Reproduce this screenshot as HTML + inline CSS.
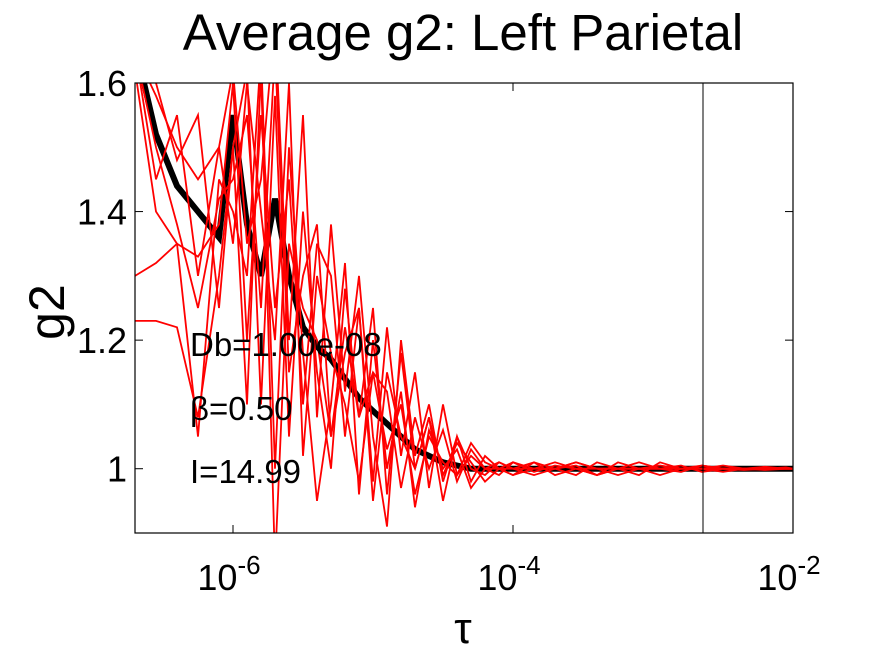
<!DOCTYPE html>
<html><head><meta charset="utf-8"><style>
body{margin:0;background:#fff;}
svg text{font-family:"Liberation Sans",sans-serif;fill:#000;}
</style></head><body>
<svg id="chart" width="875" height="656" xmlns="http://www.w3.org/2000/svg">
<defs><clipPath id="pc"><rect x="135" y="83" width="658" height="450"/></clipPath></defs>
<text x="463" y="50" font-size="51" text-anchor="middle">Average g2: Left Parietal</text>
<text transform="translate(64,312) rotate(-90)" font-size="50" text-anchor="middle">g2</text>
<text x="463" y="643" font-size="44" text-anchor="middle">τ</text>
<g id="ticks"></g>
<g id="series" clip-path="url(#pc)"></g>
<line x1="703" y1="83" x2="703" y2="533" stroke="#000" stroke-width="1"/>
<rect x="135" y="83" width="658" height="450" fill="none" stroke="#000" stroke-width="1.2"/>
<text x="190" y="356" font-size="33">Db=1.00e-08</text>
<text x="190" y="420" font-size="33">β=0.50</text>
<text x="190" y="483" font-size="33">I=14.99</text>
</svg>
<script>
const tauExp=[-6.70,-6.55,-6.40,-6.25,-6.10,-6.00,-5.90,-5.80,-5.70,-5.60,-5.50,-5.40,-5.30,-5.20,-5.10,-5.00,-4.90,-4.80,-4.70,-4.60,-4.50,-4.40,-4.30,-4.20,-4.10,-4.00,-3.85,-3.70,-3.55,-3.40,-3.25,-3.10,-2.95,-2.80,-2.65,-2.50,-2.35,-2.20,-2.05,-2.00];
const s1=[1.30,1.32,1.35,1.33,1.38,1.60,1.20,1.55,1.25,1.45,1.10,1.35,1.30,1.05,1.25,0.98,1.22,1.02,1.15,0.97,1.10,0.99,1.04,1.01,1.00,1.01,0.995,1.005,1.00,0.99,1.01,1.00,1.00,1.005,0.995,1.00,1.00,1.003,1.00,1.00];
const s2=[1.23,1.23,1.22,1.08,1.30,1.50,1.62,1.10,1.58,1.05,1.40,1.15,1.00,1.28,1.08,1.25,0.96,1.18,1.00,1.08,0.95,1.05,0.98,1.02,1.00,0.99,1.01,1.00,1.005,0.99,1.00,1.01,1.00,0.995,1.005,1.00,1.00,0.998,1.00,1.00];
const s3=[1.62,1.40,1.35,1.05,1.45,1.40,1.30,1.65,1.00,1.50,1.18,0.95,1.10,1.32,0.96,1.20,1.00,1.12,0.94,1.06,1.00,1.03,0.97,1.00,1.01,1.00,0.99,1.00,1.01,1.00,0.99,1.00,1.00,1.00,1.00,1.005,1.00,1.00,1.00,1.00];
const s4=[1.65,1.58,1.50,1.45,1.50,1.62,1.35,1.45,1.70,1.20,1.55,1.08,1.38,1.12,1.30,1.05,0.91,1.20,1.02,1.10,0.98,1.05,1.00,0.99,1.01,1.00,1.01,0.99,1.00,1.00,1.00,0.99,1.01,1.00,1.00,0.995,1.00,1.00,1.00,1.00];
const s5=[1.65,1.60,1.48,1.55,1.25,1.50,1.10,1.62,0.85,1.35,1.25,1.20,1.05,1.22,1.08,1.15,1.12,0.97,1.08,1.00,1.06,0.98,1.03,1.00,0.99,1.01,1.00,1.00,0.99,1.01,1.00,1.00,1.00,1.00,1.005,1.00,0.998,1.00,1.00,1.00];
const s6=[1.65,1.50,1.38,1.25,1.42,1.45,1.55,1.25,1.65,1.15,1.30,1.38,1.05,1.18,1.25,0.95,1.15,1.05,1.00,1.08,0.99,1.04,1.01,0.98,1.00,1.00,1.00,1.01,1.00,0.99,1.00,1.00,1.005,1.00,1.00,1.00,1.00,1.00,1.002,1.00];
const s7=[1.65,1.45,1.55,1.30,1.50,1.35,1.60,1.40,1.20,1.60,1.02,1.30,1.18,1.10,0.98,1.15,1.03,1.10,0.96,1.05,1.01,0.99,1.02,1.00,1.00,0.99,1.00,1.00,1.01,1.00,1.00,1.00,0.99,1.00,1.00,1.00,1.00,1.00,1.00,1.00];
const meanG2=[1.66,1.52,1.44,1.40,1.36,1.55,1.38,1.30,1.42,1.30,1.22,1.19,1.17,1.14,1.11,1.09,1.07,1.05,1.03,1.02,1.01,1.005,1.00,1.00,1.00,1.00,1.00,1.00,1.00,1.00,1.00,1.00,1.00,1.00,1.00,1.00,1.00,1.00,1.00,1.00];
const yTicks=[1,1.2,1.4,1.6];
const yTickLabels=["1","1.2","1.4","1.6"];
const xTickExp=[-6,-4,-2];
const xTickLabels=["-6","-4","-2"];

const NS="http://www.w3.org/2000/svg";
const X0=135,X1=793,Y0=533,Y1=83,XMIN=-6.7,XMAX=-2,YMIN=0.9,YMAX=1.6;
function xs(e){return X0+(e-XMIN)/(XMAX-XMIN)*(X1-X0);}
function ys(v){return Y0-(v-YMIN)/(YMAX-YMIN)*(Y0-Y1);}
const sg=document.getElementById('series');
const reds=[s1,s2,s3,s4,s5,s6,s7];
reds.forEach((s,i)=>{
  const p=document.createElementNS(NS,'polyline');
  p.setAttribute('points',s.map((v,j)=>xs(tauExp[j]).toFixed(1)+','+ys(v).toFixed(1)).join(' '));
  p.setAttribute('fill','none');p.setAttribute('stroke','#f00');p.setAttribute('stroke-width','1.8');
  
  
  sg.appendChild(p);
});
const m=document.createElementNS(NS,'polyline');
m.setAttribute('points',meanG2.map((v,j)=>xs(tauExp[j]).toFixed(1)+','+ys(v).toFixed(1)).join(' '));
m.setAttribute('fill','none');m.setAttribute('stroke','#000');m.setAttribute('stroke-width','6');


sg.insertBefore(m,sg.firstChild);
const tg=document.getElementById('ticks');
yTicks.forEach((v,i)=>{
  const y=ys(v);
  [[X0,X0+8],[X1,X1-8]].forEach(a=>{const l=document.createElementNS(NS,'line');l.setAttribute('x1',a[0]);l.setAttribute('x2',a[1]);l.setAttribute('y1',y);l.setAttribute('y2',y);l.setAttribute('stroke','#000');tg.appendChild(l);});
  const t=document.createElementNS(NS,'text');
  t.setAttribute('x',127);t.setAttribute('y',y+13);t.setAttribute('font-size','36');t.setAttribute('text-anchor','end');
  t.textContent=yTickLabels[i];
  
  
  tg.appendChild(t);
});
xTickExp.forEach((e,i)=>{
  const x=xs(e);
  [[Y0,Y0-8],[Y1,Y1+8]].forEach(a=>{const l=document.createElementNS(NS,'line');l.setAttribute('x1',x);l.setAttribute('x2',x);l.setAttribute('y1',a[0]);l.setAttribute('y2',a[1]);l.setAttribute('stroke','#000');tg.appendChild(l);});
  const t=document.createElementNS(NS,'text');
  t.setAttribute('x',x-4);t.setAttribute('y',590);t.setAttribute('font-size','36');t.setAttribute('text-anchor','middle');
  t.innerHTML='10<tspan font-size="26" dy="-16">'+xTickLabels[i]+'</tspan>';
  
  
  tg.appendChild(t);
});
</script>
</body></html>
